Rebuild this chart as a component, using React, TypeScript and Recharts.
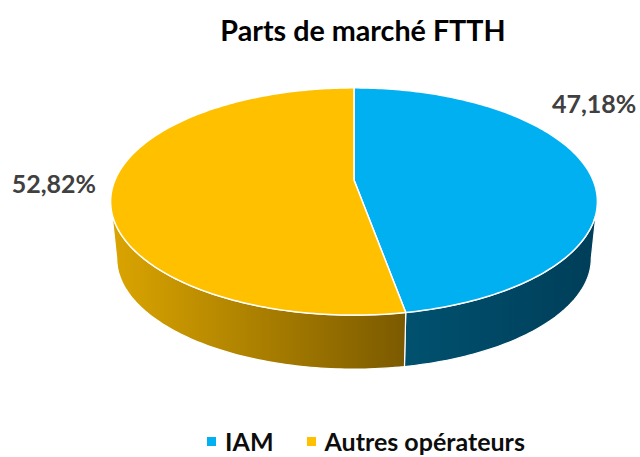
import { PieChart, Pie, Legend } from 'recharts'

const categories = ['IAM', 'Autres opérateurs']
const shares = [47.18, 52.82]
const topColors = ['#00B0F0', '#FFC000']
const wallColors = [
  ['#00516F', '#003E59'],
  ['#DBA500', '#7B5A00'],
]

const data = categories.map((name, i) => ({ name, value: shares[i], fill: topColors[i] }))

// perspective look: front of the disc is bigger than the back
const K = 0.189
const TILT = 0.4585
const DEPTH = 0.24
const BOTTOM_SCALE = 0.975
const SILHOUETTE = (Math.acos(-K) * 180) / Math.PI

function proj(cx: number, cy: number, r: number, theta: number, scale = 1, dy = 0) {
  const t = (theta * Math.PI) / 180
  const x = Math.sin(t)
  const y = -Math.cos(t)
  const w = 1 - K * y
  return [cx + (r * scale * x) / w, cy + dy + (r * TILT * scale * y) / w]
}

function arcPoints(cx: number, cy: number, r: number, from: number, to: number, scale = 1, dy = 0) {
  const steps = Math.max(2, Math.ceil(Math.abs(to - from)))
  const pts: number[][] = []
  for (let i = 0; i <= steps; i++) {
    pts.push(proj(cx, cy, r, from + ((to - from) * i) / steps, scale, dy))
  }
  return pts
}

const toPath = (pts: number[][]) =>
  pts.map((p, i) => `${i ? 'L' : 'M'}${p[0].toFixed(2)},${p[1].toFixed(2)}`).join(' ') + ' Z'

function Slice3D(props: any) {
  const { cx, cy, outerRadius, startAngle, endAngle, index, fill } = props
  const t0 = 90 - startAngle
  const t1 = 90 - endAngle
  const top = [[cx, cy], ...arcPoints(cx, cy, outerRadius, t0, t1)]
  const a = Math.max(t0, SILHOUETTE)
  const b = Math.min(t1, 360 - SILHOUETTE)
  const depth = outerRadius * DEPTH
  const gid = `wall-${index}`
  let wall = null
  if (b > a) {
    const upper = arcPoints(cx, cy, outerRadius, a, b)
    const lower = arcPoints(cx, cy, outerRadius, b, a, BOTTOM_SCALE, depth)
    wall = <path d={toPath([...upper, ...lower])} fill={`url(#${gid})`} stroke="#ffffff" strokeWidth={1.2} />
  }
  return (
    <g>
      <defs>
        <linearGradient id={gid} x1="0" y1="0" x2="1" y2="0">
          <stop offset="0%" stopColor={wallColors[index][0]} />
          <stop offset="100%" stopColor={wallColors[index][1]} />
        </linearGradient>
      </defs>
      {wall}
      <path d={toPath(top)} fill={fill} stroke="#ffffff" strokeWidth={1.5} strokeLinejoin="round" />
    </g>
  )
}

const labelNudge = [
  [6, -67],
  [-58, -7],
]

function renderLabel(props: any) {
  const { cx, cy, outerRadius, midAngle, index, value } = props
  const p = proj(cx, cy, outerRadius, 90 - midAngle)
  return (
    <text
      x={p[0] + labelNudge[index][0]}
      y={p[1] + labelNudge[index][1]}
      textAnchor="middle"
      dominantBaseline="central"
      fill="#404040"
      style={{ fontFamily: 'Lato', fontWeight: 700, fontSize: 25 }}
    >
      {value.toFixed(2).replace('.', ',')}%
    </text>
  )
}

function LegendContent({ payload }: any) {
  const items = [...(payload || [])].sort(
    (p: any, q: any) => categories.indexOf(p.value) - categories.indexOf(q.value),
  )
  return (
    <div style={{ display: 'flex', justifyContent: 'center', gap: 33, fontFamily: 'Lato', fontWeight: 700, fontSize: 25, lineHeight: '28px', color: '#0d0d0d' }}>
      {items.map((p: any) => (
        <div key={p.value} style={{ display: 'flex', alignItems: 'center', gap: 9 }}>
          <span style={{ width: 9, height: 9, background: p.color, display: 'inline-block' }} />
          <span>{p.value}</span>
        </div>
      ))}
    </div>
  )
}

export default function App() {
  return (
    <div style={{ position: 'absolute', left: 0, top: 0, width: 640, height: 457, background: '#fff' }}>
      <div
        style={{
          position: 'absolute', top: 13, left: 43, width: 640, textAlign: 'center',
          fontFamily: 'Lato', fontWeight: 700, fontSize: 28.7, color: '#000',
        }}
      >
        Parts de marché FTTH
      </div>
      <PieChart width={640} height={457} margin={{ top: 0, right: 0, bottom: 0, left: 0 }}>
        <Pie
          data={data}
          dataKey="value"
          nameKey="name"
          cx={354}
          cy={180}
          outerRadius={239}
          startAngle={90}
          endAngle={-270}
          shape={Slice3D}
          label={renderLabel}
          labelLine={false}
          isAnimationActive={false}
        />
        <Legend
          content={LegendContent}
          wrapperStyle={{ position: 'absolute', top: 427, left: 46, width: 640 }}
        />
      </PieChart>
    </div>
  )
}
